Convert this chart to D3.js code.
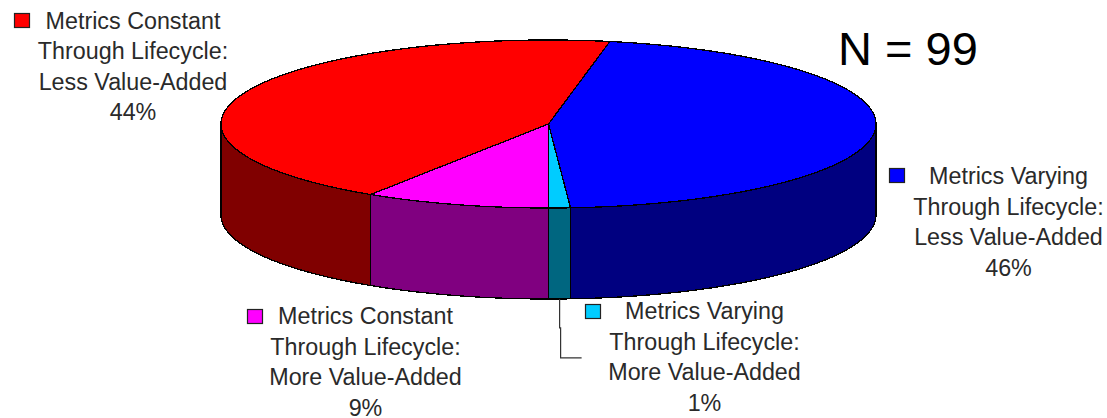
<!DOCTYPE html>
<html>
<head>
<meta charset="utf-8">
<script src="https://cdn.jsdelivr.net/npm/d3@7"></script>
<style>
  html, body { margin: 0; padding: 0; background: #fff; overflow: hidden; }
  text { font-family: "Liberation Sans", Arial, sans-serif; }
</style>
</head>
<body>
<div id="root"></div>
<script>
// data, clockwise from the red/blue edge. shares, labels round them
const categories = [
  ["Metrics Varying", "Through Lifecycle:", "Less Value-Added"],
  ["Metrics Varying", "Through Lifecycle:", "More Value-Added"],
  ["Metrics Constant", "Through Lifecycle:", "More Value-Added"],
  ["Metrics Constant", "Through Lifecycle:", "Less Value-Added"]
];
const shares = [45.93, 1.06, 9.15, 43.86];
const topColors = ["#0000ff", "#00ccff", "#ff00ff", "#ff0000"];
const sideColors = ["#000080", "#006680", "#800080", "#800000"];
const sampleSize = "N = 99";

// where each legend block sits: text centre, first line baseline, swatch corner
const legendLayout = [
  { cx: 1008.5, y: 184, sx: 889, sy: 168 },
  { cx: 704.5, y: 319, sx: 585, sy: 304 },
  { cx: 365.5, y: 324, sx: 247, sy: 309 },
  { cx: 133, y: 28.5, sx: 14, sy: 13 }
];

const width = 1107, height = 418;
const depth = 91;
const deg = Math.PI / 180;

const svg = d3.select("#root").append("svg")
  .attr("width", width)
  .attr("height", height)
  .style("display", "block");

const x = d3.scaleLinear().domain([-1, 1]).range([221, 876]);
const y = d3.scaleLinear().domain([-1, 1]).range([40, 208]);

const pie = d3.pie().sort(null).value(d => d)
  .startAngle(10.8 * deg)
  .endAngle(370.8 * deg);
const slices = pie(shares);

// point on the rim, angle clockwise from 12 o'clock
const rimX = a => x(Math.sin(a));
const rimY = a => y(-Math.cos(a));
const line = d3.line();

function rim(a0, a1) {
  const n = Math.max(2, Math.ceil((a1 - a0) / deg));
  return d3.range(n + 1).map(i => a0 + (a1 - a0) * i / n);
}

// side walls, only the front half of the disc shows
const walls = svg.append("g").attr("shape-rendering", "crispEdges");
slices.forEach((s, i) => {
  [[s.startAngle, s.endAngle], [s.startAngle - 2 * Math.PI, s.endAngle - 2 * Math.PI]].forEach(r => {
    const a0 = Math.max(r[0], 90 * deg), a1 = Math.min(r[1], 270 * deg);
    if (a1 <= a0) return;
    const angles = rim(a0, a1);
    const pts = angles.map(a => [rimX(a), rimY(a)])
      .concat(angles.slice().reverse().map(a => [rimX(a), rimY(a) + depth]));
    walls.append("path")
      .attr("d", line(pts) + "Z")
      .attr("fill", sideColors[i])
      .attr("stroke", "#000")
      .attr("stroke-width", 1.3);
  });
});

// top of the disc
svg.append("g").attr("shape-rendering", "crispEdges").selectAll("path")
  .data(slices)
  .enter()
  .append("path")
  .attr("d", s => {
    const pts = [[x(0), y(0)]].concat(rim(s.startAngle, s.endAngle).map(a => [rimX(a), rimY(a)]));
    return line(pts) + "Z";
  })
  .attr("fill", (s, i) => topColors[i])
  .attr("stroke", "#000")
  .attr("stroke-width", 1.3);

// leader for the 1% slice
const leadA = (slices[1].startAngle + slices[1].endAngle) / 2;
svg.append("path")
  .attr("d", line([
    [rimX(leadA), rimY(leadA) + depth],
    [rimX(leadA), rimY(leadA) + depth + 29],
    [rimX(leadA) + 1, rimY(leadA) + depth + 29],
    [rimX(leadA) + 1, rimY(leadA) + depth + 59],
    [rimX(leadA) + 22, rimY(leadA) + depth + 59]
  ]))
  .attr("fill", "none")
  .attr("stroke", "#333")
  .attr("stroke-width", 1.2);

// legend blocks
const legend = svg.append("g").selectAll("g")
  .data(categories)
  .enter()
  .append("g");

legend.append("rect")
  .attr("x", (d, i) => legendLayout[i].sx + 0.5)
  .attr("y", (d, i) => legendLayout[i].sy + 0.5)
  .attr("width", 15)
  .attr("height", 14)
  .attr("fill", (d, i) => topColors[i])
  .attr("stroke", "#222")
  .attr("stroke-width", 1.2);

legend.each(function (d, i) {
  const lines = d.concat(d3.format(".0f")(shares[i]) + "%");
  d3.select(this).selectAll("text")
    .data(lines)
    .enter()
    .append("text")
    .attr("x", legendLayout[i].cx)
    .attr("y", (t, k) => legendLayout[i].y + k * 30.6)
    .attr("text-anchor", "middle")
    .attr("font-size", 23.3)
    .attr("fill", "#2a2a2a")
    .text(t => t);
});

svg.append("text")
  .attr("x", 838)
  .attr("y", 65)
  .attr("font-size", 47)
  .attr("fill", "#000")
  .text(sampleSize);
</script>
</body>
</html>
